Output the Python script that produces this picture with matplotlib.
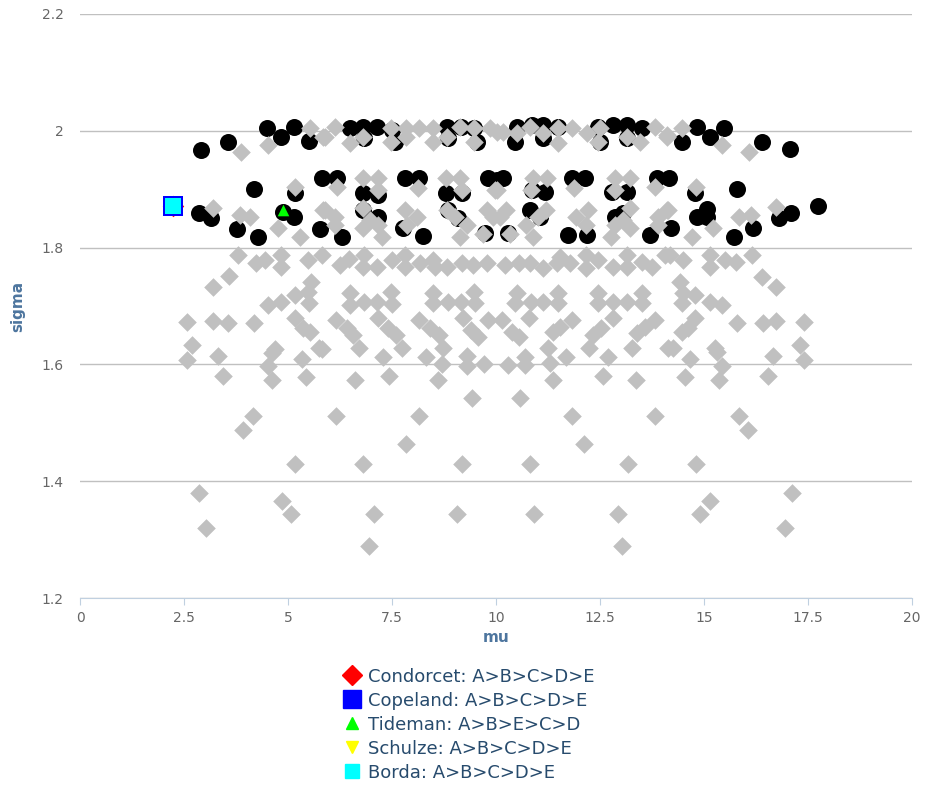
import numpy as np
import matplotlib.pyplot as plt
from matplotlib.lines import Line2D

# grey diamonds: (mu, sigma)
grey_pts = [
    # far left, lower part
    (2.56, 1.673), (2.68, 1.633), (2.56, 1.607), (3.19, 1.732), (3.57, 1.751), (3.19, 1.674),
    (3.55, 1.671), (3.31, 1.614), (3.43, 1.580), (4.17, 1.671), (3.79, 1.787), (4.22, 1.774),
    (4.44, 1.779), (4.82, 1.787), (4.82, 1.767), (5.47, 1.779), (5.81, 1.787), (5.54, 1.741),
    (5.47, 1.724), (5.16, 1.719), (4.82, 1.707), (4.51, 1.702), (5.49, 1.705), (5.16, 1.679),
    (5.35, 1.662), (5.52, 1.656), (4.68, 1.626), (4.60, 1.619), (5.73, 1.628), (4.51, 1.597),
    (5.33, 1.609), (4.60, 1.573), (5.42, 1.578),
    # centre-left, lower part
    (6.24, 1.770), (6.45, 1.780), (6.81, 1.787), (6.79, 1.767), (7.13, 1.767), (7.49, 1.779),
    (7.80, 1.787), (7.80, 1.767), (8.16, 1.774), (8.48, 1.779), (8.52, 1.767), (8.81, 1.767),
    (9.17, 1.774), (9.44, 1.770), (9.77, 1.774),
    (6.48, 1.722), (6.48, 1.702), (6.81, 1.707), (7.13, 1.707), (7.47, 1.724), (7.49, 1.703),
    (8.48, 1.722), (8.48, 1.705), (8.83, 1.707), (9.15, 1.707), (9.46, 1.724), (9.49, 1.705),
    (6.14, 1.676), (6.41, 1.662), (6.55, 1.650), (7.15, 1.679), (7.39, 1.662), (7.58, 1.650),
    (8.14, 1.676), (8.40, 1.662), (8.62, 1.650), (9.20, 1.679), (9.39, 1.659), (9.56, 1.647),
    (9.80, 1.676), (5.80, 1.626), (6.70, 1.628), (7.73, 1.628), (8.71, 1.628), (7.27, 1.613),
    (8.31, 1.613), (8.69, 1.601), (9.29, 1.614), (9.29, 1.598), (9.70, 1.601),
    (6.60, 1.573), (7.42, 1.580), (8.59, 1.573), (9.41, 1.542),
    # centre-right, lower part
    (10.20, 1.770), (10.54, 1.774), (10.80, 1.774), (11.12, 1.765), (11.45, 1.774), (11.53, 1.784),
    (11.77, 1.774), (12.17, 1.787), (12.17, 1.765), (12.45, 1.779), (12.80, 1.767), (13.14, 1.787),
    (13.14, 1.767), (13.50, 1.775), (13.74, 1.767), (14.06, 1.787),
    (10.49, 1.722), (10.44, 1.705), (10.83, 1.707), (11.12, 1.707), (11.48, 1.722), (11.48, 1.705),
    (12.45, 1.722), (12.45, 1.705), (12.80, 1.707), (13.14, 1.707), (13.50, 1.722), (13.50, 1.705),
    (10.13, 1.676), (10.37, 1.656), (10.54, 1.647), (10.78, 1.679), (11.36, 1.656), (11.53, 1.664),
    (11.81, 1.676), (12.32, 1.650), (12.53, 1.662), (12.80, 1.679), (13.38, 1.654), (13.57, 1.664),
    (13.81, 1.676), (14.13, 1.628),
    (10.28, 1.599), (10.69, 1.613), (10.69, 1.599), (11.24, 1.628), (11.29, 1.602), (11.67, 1.613),
    (12.22, 1.628), (12.68, 1.613), (13.26, 1.628), (11.36, 1.573), (12.56, 1.580), (13.35, 1.573),
    (10.57, 1.542),
    # far right, lower part
    (14.17, 1.787), (14.48, 1.779), (15.13, 1.787), (15.13, 1.767), (15.49, 1.779), (15.76, 1.775),
    (16.14, 1.787), (16.38, 1.750), (16.74, 1.732), (14.41, 1.741), (14.48, 1.722), (14.79, 1.719),
    (14.46, 1.705), (15.13, 1.707), (15.44, 1.702), (14.79, 1.679), (14.60, 1.662), (14.46, 1.656),
    (15.78, 1.671), (16.41, 1.671), (16.74, 1.674), (17.39, 1.673), (14.24, 1.628), (14.65, 1.609),
    (15.25, 1.628), (15.32, 1.621), (15.44, 1.597), (16.65, 1.614), (17.30, 1.633), (17.39, 1.607),
    (14.53, 1.578), (15.35, 1.573), (16.53, 1.580),
    # bottom rows
    (4.14, 1.512), (3.91, 1.488), (6.15, 1.512), (8.15, 1.512), (7.84, 1.464), (11.82, 1.512),
    (13.83, 1.512), (15.83, 1.512), (16.05, 1.488), (12.12, 1.464), (5.17, 1.429), (6.80, 1.429),
    (9.17, 1.429), (10.80, 1.429), (13.18, 1.429), (14.80, 1.429), (2.86, 1.380), (3.02, 1.320),
    (4.84, 1.366), (5.06, 1.344), (7.05, 1.344), (6.94, 1.289), (9.06, 1.344), (10.90, 1.344),
    (12.92, 1.344), (13.02, 1.289), (14.91, 1.344), (15.14, 1.366), (17.11, 1.380), (16.95, 1.320),
    # upper band, outer
    (3.86, 1.964), (4.50, 1.976), (5.16, 1.904), (3.19, 1.868), (3.84, 1.856), (4.08, 1.852),
    (4.75, 1.834), (5.28, 1.818), (5.83, 1.864), (5.83, 1.989), (5.52, 2.005),
    (14.10, 1.989), (14.46, 2.005), (15.42, 1.976), (16.07, 1.964), (14.80, 1.904), (14.10, 1.864),
    (15.83, 1.852), (16.12, 1.856), (16.74, 1.870), (15.21, 1.834), (14.70, 1.818),
    # top band, inner
    (5.88, 1.989), (6.12, 2.007), (6.48, 1.979), (6.79, 1.989), (7.47, 2.005), (7.47, 1.981),
    (7.83, 2.005), (7.83, 1.989), (8.14, 2.005), (8.47, 2.005), (8.47, 1.981), (8.81, 1.989),
    (9.12, 2.007), (9.46, 2.005), (9.46, 1.981), (9.84, 2.005), (10.01, 1.998), (10.16, 1.998),
    (10.49, 1.996), (10.80, 2.007), (11.12, 1.996), (11.48, 2.005), (11.48, 1.979), (11.81, 2.005),
    (12.18, 1.996), (12.49, 2.005), (12.44, 1.981), (13.14, 1.989), (13.45, 1.981), (13.81, 2.007),
    (14.10, 1.993),
    # middle band, inner
    (6.17, 1.904), (5.88, 1.864), (6.12, 1.852), (6.12, 1.839),
    (6.79, 1.919), (7.15, 1.919), (7.15, 1.899), (6.79, 1.868), (6.96, 1.847), (6.79, 1.834),
    (7.15, 1.839), (7.25, 1.818),
    (8.12, 1.902), (7.80, 1.864), (8.09, 1.852), (7.85, 1.839),
    (8.79, 1.919), (9.12, 1.919), (9.17, 1.899), (8.81, 1.864), (9.00, 1.852), (9.29, 1.839),
    (9.12, 1.818),
    (9.97, 1.899), (9.77, 1.864), (9.92, 1.852), (9.68, 1.823),
    (13.83, 1.904), (14.12, 1.864), (13.88, 1.852), (13.88, 1.839),
    (13.21, 1.919), (12.85, 1.919), (12.85, 1.899), (13.21, 1.868), (13.04, 1.847), (13.21, 1.834),
    (12.85, 1.839), (12.75, 1.818),
    (11.88, 1.902), (12.20, 1.864), (11.91, 1.852), (12.15, 1.839),
    (11.21, 1.919), (10.88, 1.919), (10.83, 1.899), (11.19, 1.864), (11.00, 1.852), (10.71, 1.839),
    (10.88, 1.818),
    (10.03, 1.899), (10.23, 1.864), (10.08, 1.852), (10.32, 1.823),
]

# black circles: (mu, sigma)
black_pts = [
    # top band
    (2.90, 1.967), (3.55, 1.981), (4.48, 2.005), (4.82, 1.989), (5.13, 2.007), (5.49, 1.983),
    (6.48, 2.005), (6.79, 2.007), (7.13, 2.007), (7.49, 2.001), (7.56, 1.981), (6.81, 1.988),
    (8.81, 2.007), (9.15, 2.007), (9.46, 2.005), (9.53, 1.981), (8.83, 1.988),
    (10.49, 2.007), (10.44, 1.981), (10.85, 2.010), (11.12, 2.010), (11.12, 1.988), (11.48, 2.007),
    (12.44, 2.007), (12.49, 1.981), (12.80, 2.010), (13.14, 2.010), (13.14, 1.988), (13.50, 2.005),
    (14.46, 1.981), (14.84, 2.007), (15.13, 1.989), (15.47, 2.005), (16.38, 1.981), (17.06, 1.969),
    # middle band, left
    (2.22, 1.871), (4.17, 1.900), (5.16, 1.893), (5.80, 1.919), (2.85, 1.859), (3.14, 1.851),
    (3.76, 1.832), (4.27, 1.818), (4.87, 1.861), (5.13, 1.853), (5.76, 1.832),
    (6.17, 1.919), (6.79, 1.893), (7.15, 1.890), (7.80, 1.919), (8.14, 1.919), (8.79, 1.893),
    (9.17, 1.893), (9.80, 1.919), (10.01, 1.916),
    (6.29, 1.818), (6.79, 1.864), (7.15, 1.852), (7.75, 1.834), (8.23, 1.820), (8.83, 1.864),
    (9.07, 1.851), (9.72, 1.825),
    # middle band, right
    (10.16, 1.919), (10.85, 1.899), (11.17, 1.895), (11.81, 1.919), (12.13, 1.919), (12.78, 1.895),
    (13.14, 1.895), (13.86, 1.919), (10.28, 1.825), (10.80, 1.864), (11.05, 1.852), (11.72, 1.822),
    (12.18, 1.822), (12.85, 1.852), (13.04, 1.859), (13.69, 1.822),
    (14.15, 1.919), (15.78, 1.900), (17.73, 1.871), (17.10, 1.859), (16.81, 1.851), (15.08, 1.866),
    (14.84, 1.852), (15.06, 1.852), (14.20, 1.834), (16.17, 1.834), (15.71, 1.818), (14.77, 1.893),
]

# voting methods
methods = ['Condorcet', 'Copeland', 'Tideman', 'Schulze', 'Borda']
rankings = ['A>B>C>D>E', 'A>B>C>D>E', 'A>B>E>C>D', 'A>B>C>D>E', 'A>B>C>D>E']
method_mu = [2.22, 2.22, 4.87, 2.22, 2.22]
method_sigma = [1.871, 1.871, 1.864, 1.871, 1.871]
method_colors = ['#ff0000', '#0000ff', '#00ff00', '#ffff00', '#00ffff']
method_markers = ['D', 's', '^', 'v', 's']
method_sizes = [120, 190, 70, 70, 120]

fig = plt.figure(figsize=(9.28, 7.85), dpi=100)
ax = fig.add_axes([0.0867, 0.2382, 0.8961, 0.744])

black = np.array(black_pts)
grey = np.array(grey_pts)
ax.scatter(black[:, 0], black[:, 1], s=150, c='black', marker='o', linewidths=0, zorder=3)
ax.scatter(grey[:, 0], grey[:, 1], s=90, c='#c0c0c0', marker='D', linewidths=0, zorder=4)

handles = []
for i, m in enumerate(methods):
    ax.scatter(method_mu[i], method_sigma[i], s=method_sizes[i], c=method_colors[i],
               marker=method_markers[i], linewidths=0, zorder=5 + i)
    handles.append(Line2D([], [], linestyle='none', marker=method_markers[i],
                          color=method_colors[i], markersize=np.sqrt(method_sizes[i]) * 0.95))

ax.set_xlim(0, 20)
ax.set_ylim(1.2, 2.2)
ax.set_xticks(np.arange(0, 20.1, 2.5))
ax.set_xticklabels(['0', '2.5', '5', '7.5', '10', '12.5', '15', '17.5', '20'])
ax.set_yticks([1.2, 1.4, 1.6, 1.8, 2.0, 2.2])
ax.set_yticklabels(['1.2', '1.4', '1.6', '1.8', '2', '2.2'])
ax.grid(axis='y', color='#c0c0c0', linewidth=1)
ax.set_axisbelow(True)
for side in ['top', 'right', 'left']:
    ax.spines[side].set_visible(False)
ax.spines['bottom'].set_color('#c0d0e0')
ax.tick_params(axis='y', length=0, labelsize=10, labelcolor='#666666', pad=12)
ax.tick_params(axis='x', length=5, color='#c0d0e0', labelsize=10, labelcolor='#666666', pad=4)
ax.set_xlabel('mu', fontsize=11, fontweight='bold', color='#4d759e', labelpad=4)
ax.set_ylabel('sigma', fontsize=11, fontweight='bold', color='#4d759e', labelpad=12)

labels = [f'{m}: {r}' for m, r in zip(methods, rankings)]
fig.legend(handles, labels, loc='upper center', bbox_to_anchor=(0.505, 0.17), frameon=False,
           fontsize=13, labelcolor='#274b6d', handletextpad=0.35, labelspacing=0.33,
           handlelength=1.1)

fig.savefig('out.png', dpi=100)
